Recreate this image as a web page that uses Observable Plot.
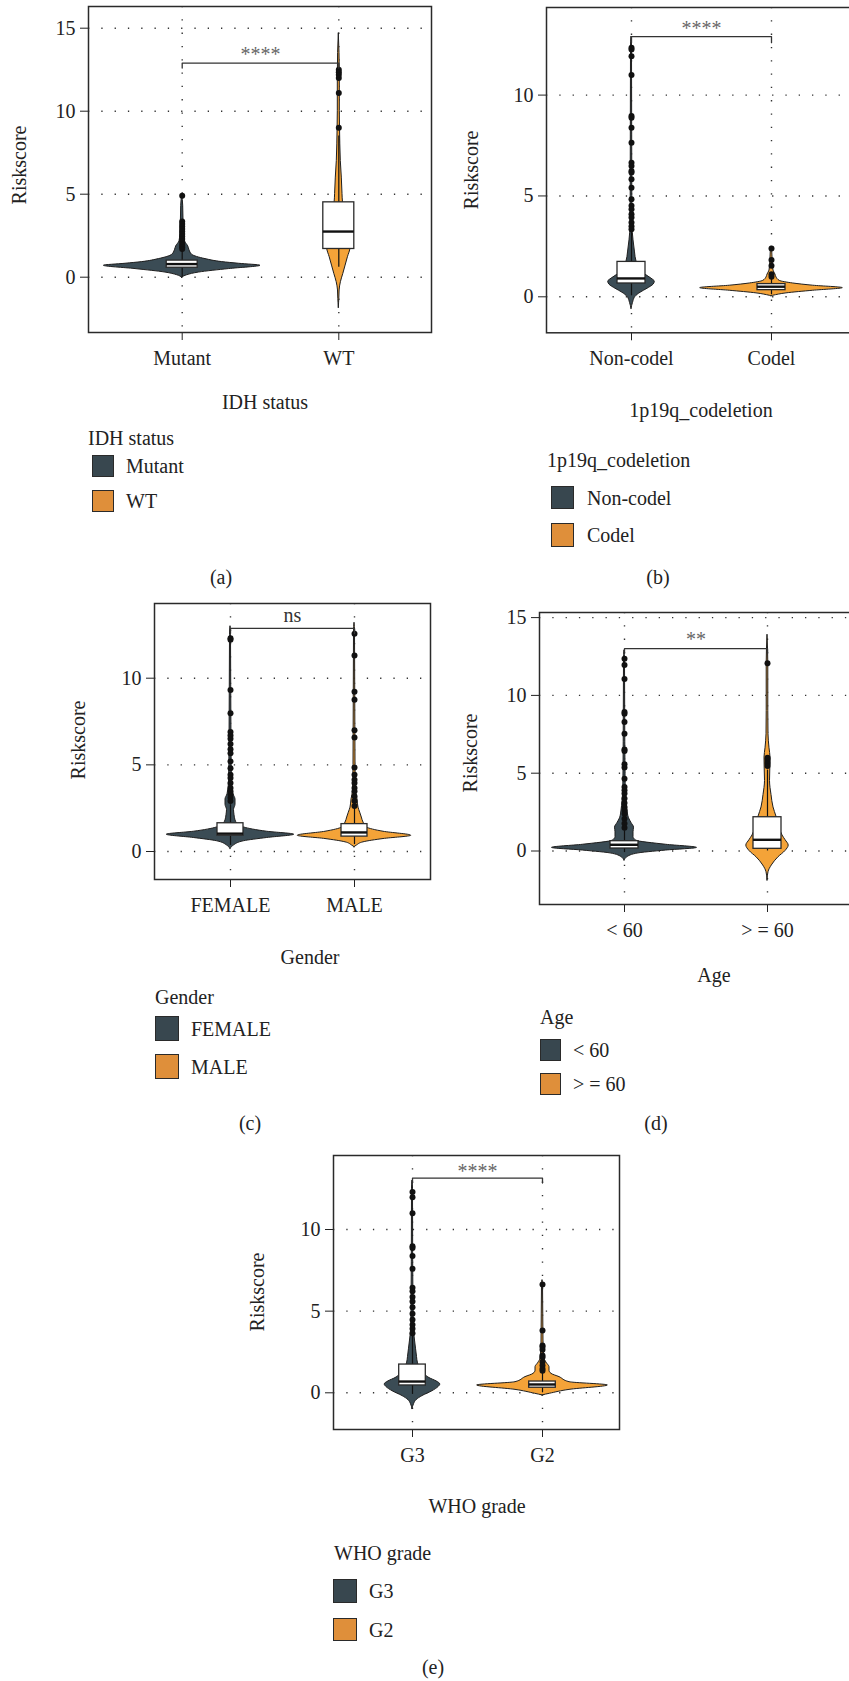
<!DOCTYPE html>
<html><head><meta charset="utf-8">
<script src="https://cdn.jsdelivr.net/npm/d3@7"></script>
<script src="https://cdn.jsdelivr.net/npm/@observablehq/plot@0.6"></script>
<style>
body{margin:0;background:#fff}
#root{position:relative;width:849px;height:1681px;overflow:hidden;background:#fff;font-family:"Liberation Serif","DejaVu Serif",serif;color:#222}
.t{position:absolute;font-size:20px;white-space:nowrap;line-height:1;font-family:"Liberation Serif","DejaVu Serif",serif}
.sw{position:absolute;border:1.5px solid #2a2a2a;box-sizing:border-box}
svg{position:absolute}
svg text{font-family:"Liberation Serif","DejaVu Serif",serif !important}
</style></head>
<body><div id="root"></div>
<script>
// ---------- DATA ----------
// (a) IDH status
const idhCategories = ["Mutant", "WT"];
const idhMutantViolinY = [-0.03, 0.12, 0.28, 0.49, 0.69, 0.81, 0.91, 1.09, 1.35, 1.62, 1.86, 2.16, 2.6, 3.4, 4.3, 5.0];
const idhMutantViolinW = [0, 5, 16.7, 46.7, 78.3, 56.7, 40, 23.3, 10, 7.3, 6, 2.7, 1.8, 1.3, 1, 0];
const idhMutantBox = [0.0, 0.57, 0.79, 1.0, 1.65];
const idhMutantOutliers = [4.9, 3.35, 3.2, 3.05, 2.9, 2.75, 2.6, 2.45, 2.3, 2.15, 2.0, 1.9, 1.8, 1.7];
const idhWTViolinY = [-1.85, -1.3, -0.8, -0.3, 0.2, 0.7, 1.2, 1.75, 2.3, 3.0, 3.8, 4.5, 5.0, 6.0, 7.0, 8, 9, 10, 12, 13.5, 14.7];
const idhWTViolinW = [0, 0.5, 0.8, 2.1, 4.5, 6.8, 9.1, 11.7, 12, 9.5, 6.5, 4.2, 3.7, 3, 2, 1.5, 1.2, 1, 1, 0.7, 0];
const idhWTBox = [0.6, 1.7, 2.75, 4.51, 8.5];
const idhWTOutliers = [9.0, 11.1, 12.0, 12.2, 12.35, 12.5];

// (b) 1p19q codeletion
const codelCategories = ["Non-codel", "Codel"];
const nonCodelViolinY = [-0.6, -0.3, 0.0, 0.2, 0.4, 0.6, 0.75, 0.9, 1.1, 1.4, 1.75, 2.2, 2.8, 3.5, 5, 8, 12.4, 12.9];
const nonCodelViolinW = [0, 1.5, 4, 9, 16, 22, 23.3, 20, 14, 9, 5, 3.5, 2, 1, 0.8, 0.7, 0.5, 0];
const nonCodelBox = [0.05, 0.66, 0.91, 1.73, 3.3];
const nonCodelOutliers = [12.35, 12.26, 11.93, 11.0, 8.96, 8.88, 8.38, 7.64, 6.65, 6.49, 6.24, 6.16, 5.83, 5.41, 4.84, 4.51, 4.34, 4.09, 3.93, 3.68, 3.5, 3.35];
const codelViolinY = [0.03, 0.05, 0.17, 0.30, 0.43, 0.55, 0.66, 0.79, 0.96, 1.1, 1.3, 1.7, 2.4, 2.5];
const codelViolinW = [0, 1.7, 15, 41.7, 71.3, 41.7, 21.7, 8.3, 5, 4, 2, 1.2, 0.6, 0];
const codelBox = [0.1, 0.33, 0.5, 0.63, 0.95];
const codelOutliers = [2.40, 1.82, 1.54, 1.12, 0.99];

// (c) Gender
const genderCategories = ["FEMALE", "MALE"];
const femaleViolinY = [0.15, 0.34, 0.59, 0.78, 0.97, 1.14, 1.39, 1.63, 1.8, 2.1, 2.4, 2.7, 3.0, 3.3, 4, 6, 12.5, 13];
const femaleViolinW = [0, 3.3, 13.3, 36.7, 63.7, 36.7, 13.3, 6.5, 5, 4, 3.5, 5, 5, 3, 1.5, 1, 0.5, 0];
const femaleBox = [0.35, 0.91, 1.03, 1.63, 2.7];
const femaleOutliers = [12.22, 12.3, 9.32, 7.98, 6.9, 6.7, 6.5, 6.2, 5.9, 5.67, 5.2, 4.8, 4.43, 4.24, 3.95, 3.67, 3.48, 3.29, 3.1, 2.91];
const maleViolinY = [0.25, 0.34, 0.53, 0.72, 0.91, 1.14, 1.39, 1.67, 1.96, 2.24, 2.53, 3.0, 3.5, 5, 12.7, 13.2];
const maleViolinW = [0, 2.3, 9, 29, 56.7, 29, 12.3, 9, 7.3, 5.7, 4, 3, 1.5, 1, 0.5, 0];
const maleBox = [0.4, 0.86, 1.1, 1.58, 2.6];
const maleOutliers = [12.57, 11.31, 9.22, 8.75, 7.0, 6.58, 4.85, 4.43, 4.14, 3.95, 3.67, 3.48, 3.19, 2.91, 2.62];

// (d) Age
const ageCategories = ["< 60", "> = 60"];
const under60ViolinY = [-0.61, -0.46, -0.18, 0.03, 0.2, 0.4, 0.67, 0.9, 1.2, 1.5, 1.8, 2.1, 2.6, 3.2, 4, 7, 12.3, 12.9];
const under60ViolinW = [0, 1.7, 11.7, 41.7, 72.5, 41.7, 11.7, 9, 9, 9.5, 7, 4.5, 3, 2, 1.2, 0.8, 0.5, 0];
const under60Box = [-0.1, 0.16, 0.4, 0.63, 1.3];
const under60Outliers = [12.35, 11.96, 11.06, 8.93, 8.82, 8.29, 7.54, 6.53, 6.43, 5.57, 5.36, 4.65, 4.12, 3.9, 3.69, 3.37, 3.08, 2.83, 2.61, 2.4, 2.08, 1.76, 1.5];
const over60ViolinY = [-1.9, -1.36, -0.93, -0.4, 0.0, 0.35, 0.7, 1.0, 1.5, 2.2, 2.8, 3.6, 4.5, 5.3, 6.0, 6.6, 7.5, 9, 12, 13.9];
const over60ViolinW = [0, 1, 4.3, 11, 18, 21.2, 18, 15, 12, 9, 6, 4, 2.5, 2.8, 3, 2, 1, 0.8, 0.8, 0];
const over60Box = [0.0, 0.14, 0.72, 2.17, 5.2];
const over60Outliers = [12.06, 6.0, 5.89, 5.74, 5.6, 5.47];

// (e) WHO grade
const gradeCategories = ["G3", "G2"];
const g3ViolinY = [-1.0, -0.7, -0.45, -0.2, 0.1, 0.35, 0.51, 0.7, 0.9, 1.2, 1.5, 1.8, 2.2, 2.7, 3.2, 3.8, 5, 8, 12.5, 13];
const g3ViolinW = [0, 1.5, 4, 10, 20, 26, 27.8, 24, 17, 11, 7.5, 5.5, 4.5, 3.5, 2.5, 1.5, 1, 0.7, 0.5, 0];
const g3Box = [-0.1, 0.45, 0.69, 1.73, 3.6];
const g3Outliers = [12.29, 11.98, 11.0, 8.98, 8.86, 8.37, 7.59, 6.43, 6.22, 5.86, 5.59, 5.24, 4.84, 4.47, 4.16, 3.92, 3.65];
const g2ViolinY = [-0.16, -0.06, 0.18, 0.45, 0.65, 0.96, 1.16, 1.35, 1.57, 1.8, 2.1, 3, 6.7, 6.9];
const g2ViolinW = [0, 7.3, 27, 65.3, 27, 17, 9, 7, 7, 4.5, 2, 1, 0.5, 0];
const g2Box = [0.0, 0.31, 0.51, 0.69, 1.25];
const g2Outliers = [6.63, 3.82, 2.9, 2.8, 2.63, 2.29, 2.18, 1.88, 1.67, 1.47, 1.35];

// significance annotations
const sigLabels = ["****", "****", "ns", "**", "****"];
const bracketHeights = [12.9, 12.9, 12.88, 13.0, 13.14];
const axisTitles = ["IDH status", "1p19q_codeletion", "Gender", "Age", "WHO grade"];
const panelLetters = ["(a)", "(b)", "(c)", "(d)", "(e)"];
const yTickSets = [[0, 5, 10, 15], [0, 5, 10], [0, 5, 10], [0, 5, 10, 15], [0, 5, 10]];

// ---------- STYLE / LAYOUT ----------
const FONT = '"Liberation Serif", "DejaVu Serif", serif';
const DARK = "#3b4c55", ORANGE = "#f4a338";
const LEG_DARK = "#38474f", LEG_ORANGE = "#df8f3a";
const root = document.getElementById("root");

function txt(s, x, y, anchor = "middle", extra = {}) {
  const d = document.createElement("div");
  d.className = "t";
  d.textContent = s;
  d.style.left = x + "px";
  d.style.top = y + "px";
  const tx = anchor === "middle" ? "-50%" : "0";
  d.style.transform = `translate(${tx},-50%)` + (extra.rotate ? " rotate(-90deg)" : "");
  if (extra.color) d.style.color = extra.color;
  root.appendChild(d);
  return d;
}
function swatch(x1, y1, x2, y2, color) {
  const d = document.createElement("div");
  d.className = "sw";
  Object.assign(d.style, {left: x1 + "px", top: y1 + "px", width: (x2 - x1) + "px", height: (y2 - y1) + "px", background: color});
  root.appendChild(d);
}

const groupsByPanel = [
  [[idhMutantViolinY, idhMutantViolinW, idhMutantBox, idhMutantOutliers], [idhWTViolinY, idhWTViolinW, idhWTBox, idhWTOutliers]],
  [[nonCodelViolinY, nonCodelViolinW, nonCodelBox, nonCodelOutliers], [codelViolinY, codelViolinW, codelBox, codelOutliers]],
  [[femaleViolinY, femaleViolinW, femaleBox, femaleOutliers], [maleViolinY, maleViolinW, maleBox, maleOutliers]],
  [[under60ViolinY, under60ViolinW, under60Box, under60Outliers], [over60ViolinY, over60ViolinW, over60Box, over60Outliers]],
  [[g3ViolinY, g3ViolinW, g3Box, g3Outliers], [g2ViolinY, g2ViolinW, g2Box, g2Outliers]]
];
const categoriesByPanel = [idhCategories, codelCategories, genderCategories, ageCategories, gradeCategories];

// frame geometry (pixels) for each panel
const layouts = [
  {L: 88, R: 431, T: 6, B: 332, c1: 181.7, c2: 338.3, y0: 276.7, ppu: 16.6, boxHW: 15.5, sigDy: -8},
  {L: 546, R: 856, T: 6.7, B: 332, c1: 631, c2: 771, y0: 296, ppu: 20.17, boxHW: 14, sigDy: -8},
  {L: 154, R: 430, T: 603, B: 879, c1: 230, c2: 354, y0: 851, ppu: 17.33, boxHW: 13, sigDy: -13},
  {L: 539, R: 852, T: 612, B: 904, c1: 624, c2: 767, y0: 850.5, ppu: 15.56, boxHW: 14, sigDy: -9},
  {L: 333, R: 619, T: 1155, B: 1429, c1: 412, c2: 542, y0: 1392.3, ppu: 16.33, boxHW: 13.3, sigDy: -7}
];

layouts.forEach((lay, p) => {
  const ml = 50, mr = 2, mt = 4, mb = 46;
  const step = lay.c2 - lay.c1;
  const cats = categoriesByPanel[p];
  const xDomain = [1 - (lay.c1 - lay.L) / step, 2 + (lay.R - lay.c2) / step];
  const yDomain = [(lay.y0 - lay.B) / lay.ppu, (lay.y0 - lay.T) / lay.ppu];
  const marks = [];
  // dotted grid
  marks.push(Plot.ruleY(yTickSets[p], {stroke: "#333", strokeWidth: 1.4, strokeDasharray: "1.3,12"}));
  marks.push(Plot.ruleX([1, 2], {stroke: "#333", strokeWidth: 1.4, strokeDasharray: "1.3,12"}));
  groupsByPanel[p].forEach(([vy, vw, box, outs], gi) => {
    const c = gi + 1;
    const fill = gi === 0 ? DARK : ORANGE;
    const violin = vy.map((y, i) => ({y, w: vw[i] / step}));
    marks.push(Plot.areaX(violin, {y: "y", x1: d => c - d.w, x2: d => c + d.w, fill, stroke: "#1e1e1e", strokeWidth: 1, curve: "monotone-y"}));
    marks.push(Plot.ruleX([c], {y1: box[0], y2: box[4], stroke: "#111", strokeWidth: 1.2}));
    const bw = lay.boxHW / step;
    marks.push(Plot.rect([box], {x1: c - bw, x2: c + bw, y1: d => d[1], y2: d => d[3], fill: "white", stroke: "#2a2a2a", strokeWidth: 1.3}));
    marks.push(Plot.ruleY([box[2]], {x1: c - bw, x2: c + bw, stroke: "#111", strokeWidth: 2.4}));
    marks.push(Plot.dot(outs, {x: () => c, y: d => d, r: 3, fill: "#111", stroke: "none"}));
  });
  const bh = bracketHeights[p];
  marks.push(Plot.line([[1, bh - 0.3], [1, bh], [2, bh], [2, bh - 0.3]], {stroke: "#333", strokeWidth: 1.3}));
  marks.push(Plot.text([sigLabels[p]], {x: () => 1.5, y: () => bh, text: d => d, dy: lay.sigDy, fontSize: 20, fill: sigLabels[p] === "ns" ? "#333" : "#666"}));
  marks.push(Plot.frame({stroke: "#2a2a2a", strokeWidth: 1.5}));

  const svg = Plot.plot({
    width: lay.R - lay.L + ml + mr,
    height: lay.B - lay.T + mt + mb,
    marginLeft: ml, marginRight: mr, marginTop: mt, marginBottom: mb,
    x: {domain: xDomain, ticks: [1, 2], tickFormat: i => cats[i - 1], tickSize: 8, tickPadding: 10, label: null},
    y: {domain: yDomain, ticks: yTickSets[p], tickSize: 8, tickPadding: 5, label: null},
    style: {fontFamily: FONT, fontSize: "20px", color: "#222", background: "transparent", overflow: "visible", maxWidth: "none"},
    marks
  });
  svg.style.left = (lay.L - ml) + "px";
  svg.style.top = (lay.T - mt) + "px";
  svg.querySelectorAll("g, text").forEach(el => {
    if (el.hasAttribute("font-family")) el.setAttribute("font-family", FONT);
    if (el.tagName === "text") el.style.fontFamily = FONT;
  });
  root.appendChild(svg);
});

// ---------- TEXT / LEGENDS ----------
// y titles
txt("Riskscore", 19, 165, "middle", {rotate: true});
txt("Riskscore", 471, 170, "middle", {rotate: true});
txt("Riskscore", 78, 740, "middle", {rotate: true});
txt("Riskscore", 470, 753, "middle", {rotate: true});
txt("Riskscore", 257, 1292, "middle", {rotate: true});

// x titles
txt(axisTitles[0], 265, 402);
txt(axisTitles[1], 701, 410);
txt(axisTitles[2], 310, 957);
txt(axisTitles[3], 714, 975);
txt(axisTitles[4], 477, 1506);

// legends
const legendSpecs = [
  {title: [88, 438], sw: [92, 114], rows: [[455, 477], [490, 512]], labelX: 126},
  {title: [547, 460], sw: [551, 574], rows: [[486, 509], [523, 547]], labelX: 587},
  {title: [155, 997], sw: [155, 179], rows: [[1016, 1041], [1054, 1079]], labelX: 191},
  {title: [540, 1017], sw: [540, 561], rows: [[1039, 1061], [1073, 1095]], labelX: 573},
  {title: [334, 1553], sw: [333, 357], rows: [[1579, 1603], [1618, 1641]], labelX: 369}
];
legendSpecs.forEach((lg, p) => {
  txt(axisTitles[p], lg.title[0], lg.title[1], "start");
  lg.rows.forEach(([y1, y2], i) => {
    swatch(lg.sw[0], y1, lg.sw[1], y2, i === 0 ? LEG_DARK : LEG_ORANGE);
    txt(categoriesByPanel[p][i], lg.labelX, (y1 + y2) / 2, "start");
  });
});

// panel letters
txt(panelLetters[0], 221, 577);
txt(panelLetters[1], 658, 577);
txt(panelLetters[2], 250, 1123);
txt(panelLetters[3], 656, 1123);
txt(panelLetters[4], 433, 1667);
</script>
</body></html>
